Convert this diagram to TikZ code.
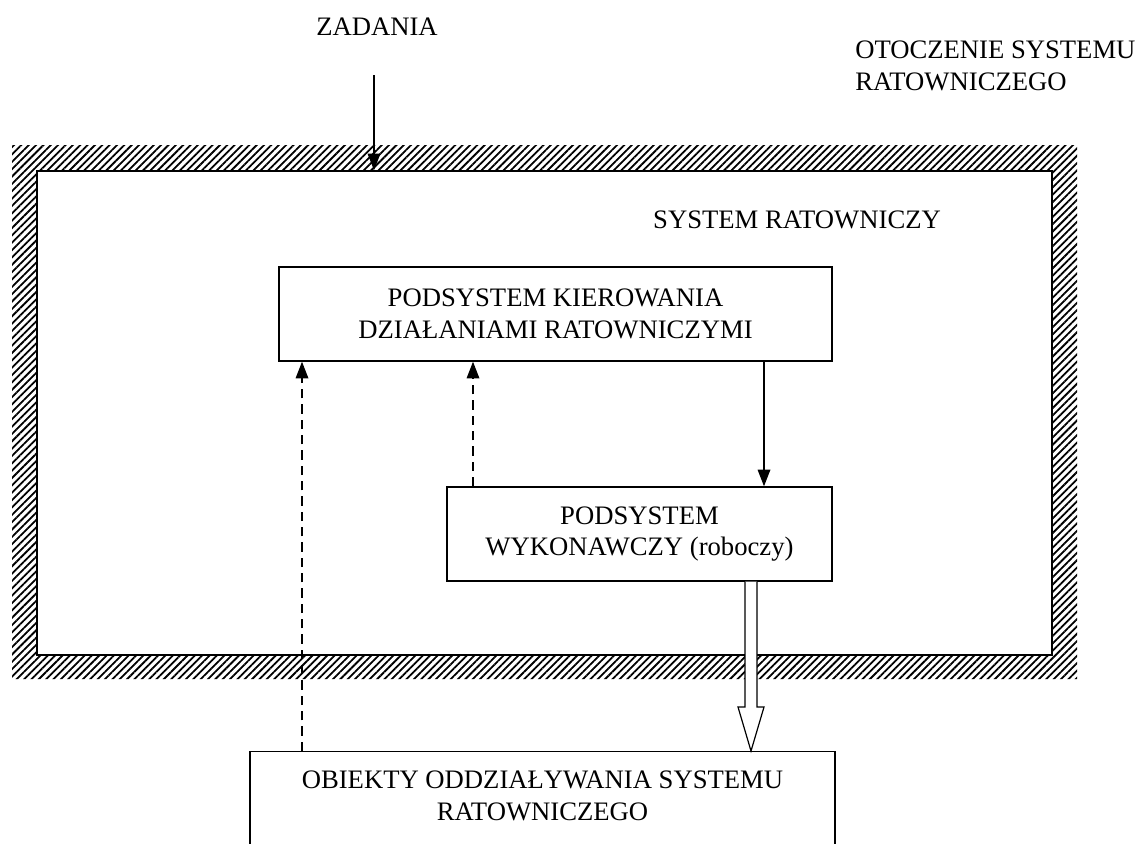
\documentclass[tikz,border=0pt]{standalone}
\usepackage{fontspec}
\setmainfont{Liberation Serif}
\usetikzlibrary{arrows.meta,patterns.meta,calc}
\begin{document}
\begin{tikzpicture}[x=0.75pt,y=-0.75pt,
  every node/.style={font=\fontsize{20}{23.5}\selectfont},
  box/.style={draw,line width=1.1pt,inner sep=0pt,align=center},
  conn/.style={line width=0.9pt,-{Triangle[length=12.5pt,width=9.5pt]}},
  dconn/.style={conn,dash pattern=on 7pt off 4.5pt},
  lbl/.style={inner sep=0pt,align=center}]
\useasboundingbox (0,0) rectangle (1138,843);
% hatched environment frame
\fill[pattern={Lines[angle=45,distance=3.9pt,line width=1.35pt]},even odd rule]
  (12,145) rectangle (1077,679) (37,171) rectangle (1052,655);
\node[draw,line width=1.1pt,inner sep=0pt,minimum width=1015*0.75pt,minimum height=484*0.75pt] (sys) at (544.5,413) {};
% labels
\node[lbl] (zad) at (377,27) {ZADANIA};
\node[lbl,anchor=west,align=left] (oto) at (855,66) {OTOCZENIE SYSTEMU\\RATOWNICZEGO};
\node[lbl] (sysl) at (797,220) {SYSTEM RATOWNICZY};
% boxes
\node[box,minimum width=553*0.75pt,minimum height=94*0.75pt] (kier) at (555.5,314) {PODSYSTEM KIEROWANIA\\DZIAŁANIAMI RATOWNICZYMI};
\node[box,minimum width=385*0.75pt,minimum height=94*0.75pt] (wyk) at (639.5,534) {PODSYSTEM\\WYKONAWCZY (roboczy)};
\node[box,minimum width=585*0.75pt,minimum height=200*0.75pt,anchor=north] (obj) at (542.5,751) {};
\node[lbl,anchor=north] (objt) at ($(obj.north)+(0,20)$) {OBIEKTY ODDZIAŁYWANIA SYSTEMU\\RATOWNICZEGO};
% connectors
\coordinate (zs) at (374,75);
\draw[conn] (zs) -- (zs |- sys.north);
\coordinate (x1) at (764,0);
\draw[conn] (kier.south -| x1) -- (wyk.north -| x1);
\coordinate (xa) at (302,0);
\draw[dconn] (obj.north -| xa) -- (kier.south -| xa);
\coordinate (xb) at (473,0);
\draw[dconn] (wyk.north -| xb) -- (kier.south -| xb);
% hollow arrow
\coordinate (xh) at (751,0);
\coordinate (h1) at (wyk.south -| xh);
\coordinate (h2) at (obj.north -| xh);
\draw[line width=0.9pt,fill=white,line join=miter]
  ($(h1)+(-6,0)$) -- ($(h2)+(-6,-44)$) -- ($(h2)+(-13,-44)$) -- (h2)
  -- ($(h2)+(13,-44)$) -- ($(h2)+(6,-44)$) -- ($(h1)+(6,0)$);
\end{tikzpicture}
\end{document}
